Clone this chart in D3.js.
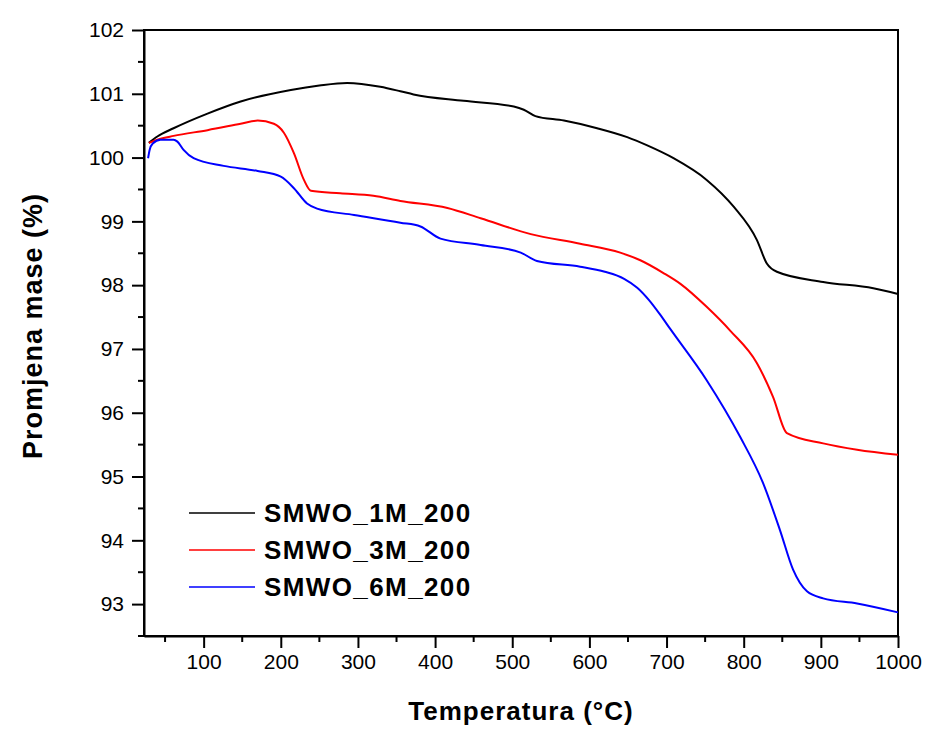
<!DOCTYPE html><html>
<head>
    <meta charset="utf-8">
    <script src="https://d3js.org/d3.v7.min.js"></script>
    <style>
        body { margin: 0; background: #fff; }
        text { font-family: "Liberation Sans", Arial, sans-serif; fill: #000; }
    </style>
</head>
<body>
    <script>
        // data (temperature in C, mass change in %)
        var seriesNames = ['SMWO_1M_200', 'SMWO_3M_200', 'SMWO_6M_200'];
        var seriesColors = ['#000000', '#ff0000', '#0000ff'];

        var temp1M = [29, 40, 61, 105, 148, 213, 250, 286, 329, 355, 372, 437, 502, 515, 530, 567, 610, 649, 675, 709, 752, 787, 817, 830, 843, 903, 968, 1000];
        var mass1M = [100.23, 100.33, 100.46, 100.69, 100.88, 101.06, 101.13, 101.17, 101.11, 101.04, 100.99, 100.89, 100.80, 100.75, 100.65, 100.58, 100.46, 100.32, 100.19, 99.99, 99.65, 99.23, 98.71, 98.34, 98.21, 98.05, 97.95, 97.86];

        var temp3M = [29, 40, 61, 105, 148, 170, 191, 204, 217, 230, 239, 277, 320, 355, 416, 459, 524, 588, 640, 666, 696, 718, 752, 783, 817, 838, 856, 903, 947, 1000];
        var mass3M = [100.23, 100.28, 100.34, 100.43, 100.53, 100.58, 100.53, 100.39, 100.07, 99.65, 99.48, 99.44, 99.40, 99.32, 99.21, 99.05, 98.80, 98.65, 98.51, 98.39, 98.19, 98.02, 97.66, 97.28, 96.78, 96.25, 95.68, 95.52, 95.42, 95.34];

        var temp6M = [28, 30, 34, 44, 61, 66, 74, 87, 126, 170, 200, 217, 234, 247, 295, 355, 381, 407, 459, 511, 532, 588, 620, 645, 662, 677, 691, 705, 752, 795, 825, 847, 864, 882, 903, 947, 1000];
        var mass6M = [99.99, 100.12, 100.22, 100.28, 100.28, 100.25, 100.12, 99.99, 99.87, 99.79, 99.70, 99.52, 99.28, 99.20, 99.10, 98.98, 98.92, 98.73, 98.63, 98.51, 98.38, 98.29, 98.21, 98.10, 97.96, 97.77, 97.55, 97.31, 96.51, 95.63, 94.90, 94.16, 93.54, 93.20, 93.09, 93.01, 92.87];

        var xTicks = [100, 200, 300, 400, 500, 600, 700, 800, 900, 1000];
        var yTicks = [93, 94, 95, 96, 97, 98, 99, 100, 101, 102];

        var series = [
            { name: seriesNames[0], color: seriesColors[0], t: temp1M, m: mass1M },
            { name: seriesNames[1], color: seriesColors[1], t: temp3M, m: mass3M },
            { name: seriesNames[2], color: seriesColors[2], t: temp6M, m: mass6M }
        ];

        var width = 936, height = 733;
        var margin = { left: 144, right: 38, top: 30, bottom: 97 };

        var x = d3.scaleLinear().domain([22.7, 1000]).range([margin.left, width - margin.right]);
        var y = d3.scaleLinear().domain([92.5, 102]).range([height - margin.bottom, margin.top]);

        var svg = d3.select('body').append('svg')
            .attr('width', width)
            .attr('height', height);

        // minor ticks first, major ticks drawn by axes
        var minorX = d3.range(50, 1000, 100);
        var minorY = d3.range(92.5, 102, 1);

        svg.append('g').selectAll('line').data(minorX).enter().append('line')
            .attr('x1', function(d) { return x(d); }).attr('x2', function(d) { return x(d); })
            .attr('y1', y(92.5)).attr('y2', y(92.5) + 6)
            .attr('stroke', '#000').attr('stroke-width', 2);
        svg.append('g').selectAll('line').data(minorY).enter().append('line')
            .attr('y1', function(d) { return y(d); }).attr('y2', function(d) { return y(d); })
            .attr('x1', x.range()[0]).attr('x2', x.range()[0] - 6)
            .attr('stroke', '#000').attr('stroke-width', 2);

        var xAxis = svg.append('g')
            .attr('transform', 'translate(0,' + y(92.5) + ')')
            .call(d3.axisBottom(x).tickValues(xTicks).tickFormat(d3.format('d'))
                .tickSize(12).tickPadding(6).tickSizeOuter(0));
        var yAxis = svg.append('g')
            .attr('transform', 'translate(' + x.range()[0] + ',0)')
            .call(d3.axisLeft(y).tickValues(yTicks).tickFormat(d3.format('d'))
                .tickSize(12).tickPadding(8).tickSizeOuter(0));

        [xAxis, yAxis].forEach(function(g) {
            g.selectAll('line').attr('stroke-width', 2);
            g.select('.domain').attr('stroke-width', 2);
            g.selectAll('text')
                .style('font-family', '"Liberation Sans", Arial, sans-serif')
                .style('font-size', '21px')
                .attr('fill', '#000');
        });

        // top and right frame
        svg.append('rect')
            .attr('x', x.range()[0]).attr('y', y.range()[1])
            .attr('width', x.range()[1] - x.range()[0])
            .attr('height', y.range()[0] - y.range()[1])
            .attr('fill', 'none').attr('stroke', '#000').attr('stroke-width', 2);

        var line = d3.line()
            .x(function(d) { return x(d[0]); })
            .y(function(d) { return y(d[1]); })
            .curve(d3.curveMonotoneX);

        svg.append('g').selectAll('path').data(series).enter().append('path')
            .attr('d', function(s) { return line(d3.zip(s.t, s.m)); })
            .attr('fill', 'none')
            .attr('stroke', function(s) { return s.color; })
            .attr('stroke-width', 2);

        // axis titles
        svg.append('text')
            .attr('x', (x.range()[0] + x.range()[1]) / 2)
            .attr('y', 720)
            .attr('text-anchor', 'middle')
            .style('font-size', '26px').style('font-weight', 'bold')
            .style('letter-spacing', '1px')
            .text('Temperatura (°C)');

        svg.append('text')
            .attr('transform', 'translate(42,326) rotate(-90)')
            .attr('text-anchor', 'middle')
            .style('font-size', '27px').style('font-weight', 'bold')
            .style('letter-spacing', '1px')
            .text('Promjena mase (%)');

        // legend
        var legend = svg.append('g').selectAll('g').data(series).enter().append('g')
            .attr('transform', function(d, i) { return 'translate(189,' + (513 + i * 37) + ')'; });
        legend.append('line')
            .attr('x1', 0).attr('x2', 66)
            .attr('stroke', function(d) { return d.color; })
            .attr('stroke-width', 1.5);
        legend.append('text')
            .attr('x', 75).attr('y', 9)
            .style('font-size', '26px').style('font-weight', 'bold')
            .style('letter-spacing', '1.4px')
            .text(function(d) { return d.name; });
    </script>
</body></html>
